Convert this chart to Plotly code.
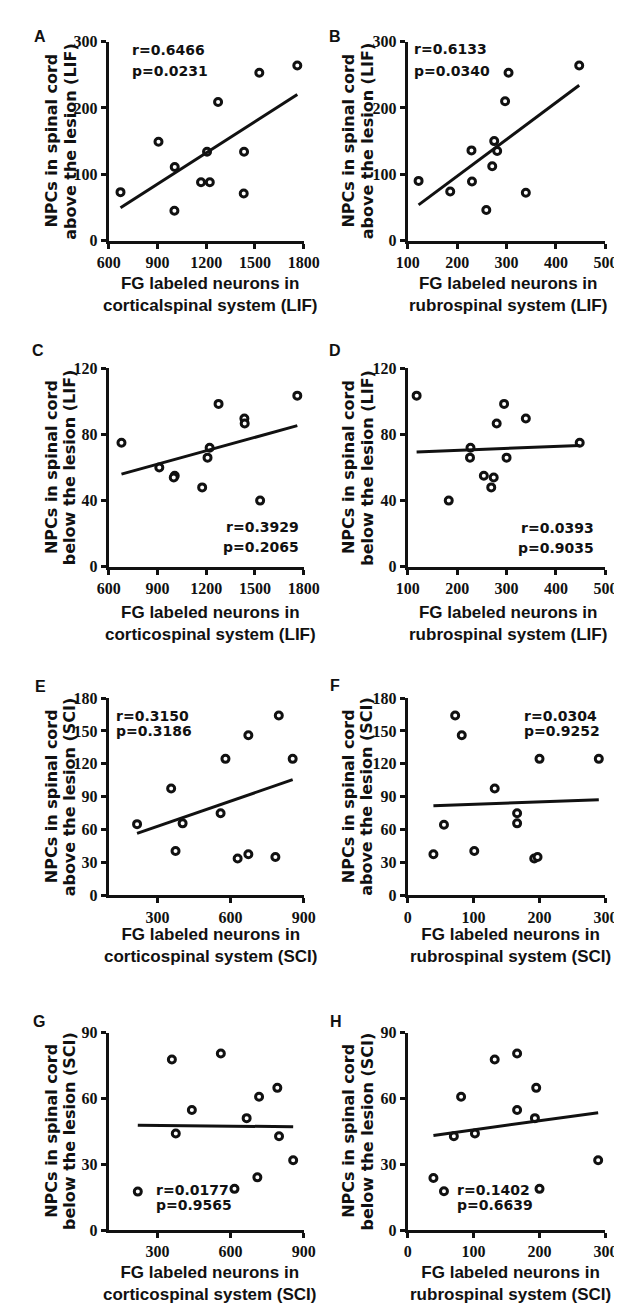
import numpy as np
import plotly.graph_objects as go

W, H = 622, 1307

# ---------------- data ----------------
a_x = [672, 906, 1006, 1004, 1168, 1222, 1205, 1273, 1433, 1431, 1527, 1761]
a_y = [73, 149, 111, 45, 88, 88, 134, 209, 134, 71, 253, 264]
b_x = [122, 186, 229, 230, 259, 271, 275, 281, 297, 304, 339, 447]
b_y = [90, 74, 136, 89, 46, 112, 150, 135, 210, 253, 72, 264]
c_x = [678, 911, 1006, 1000, 1175, 1208, 1221, 1276, 1435, 1437, 1532, 1761]
c_y = [75, 60, 55, 54, 48, 66, 72, 98.5, 89.7, 86.6, 40, 103.5]
d_x = [118, 183, 227, 226, 254, 274, 269, 280, 295, 300, 339, 448]
d_y = [103.5, 40, 72, 66, 55, 54, 48, 86.6, 98.5, 66, 89.7, 75]
e_x = [216, 356, 374, 403, 559, 579, 629, 673, 673, 784, 798, 855]
e_y = [65, 97.5, 40.5, 65.7, 75, 124.5, 33.6, 146, 37.5, 35, 164, 124.5]
f_x = [39, 55, 72, 82, 101, 132, 166, 166, 192, 197, 200, 290]
f_y = [37.5, 64.5, 164, 146, 40.5, 97.5, 75, 65.7, 33.6, 35, 124.5, 124.5]
g_x = [219, 359, 375, 441, 560, 616, 666, 710, 717, 792, 799, 857]
g_y = [17.5, 77.7, 44, 54.75, 80.5, 18.75, 51, 24, 60.75, 64.8, 42.75, 31.8]
h_x = [39, 55, 70, 81, 102, 132, 166, 166, 193, 195, 200, 289]
h_y = [23.7, 17.7, 42.75, 60.75, 44, 77.7, 80.5, 54.75, 51, 64.8, 18.75, 31.8]

panel_letters = ["A", "B", "C", "D", "E", "F", "G", "H"]
r_texts = ["r=0.6466", "r=0.6133", "r=0.3929", "r=0.0393",
           "r=0.3150", "r=0.0304", "r=0.0177", "r=0.1402"]
p_texts = ["p=0.0231", "p=0.0340", "p=0.2065", "p=0.9035",
           "p=0.3186", "p=0.9252", "p=0.9565", "p=0.6639"]

x_titles = [
    "FG labeled neurons in<br>corticalspinal system (LIF)",
    "FG labeled neurons in<br>rubrospinal system (LIF)",
    "FG labeled neurons in<br>corticospinal system (LIF)",
    "FG labeled neurons in<br>rubrospinal system (LIF)",
    "FG labeled neurons in<br>corticospinal system (SCI)",
    "FG labeled neurons in<br>rubrospinal system (SCI)",
    "FG labeled neurons in<br>corticospinal system (SCI)",
    "FG labeled neurons in<br>rubrospinal system (SCI)",
]
y_title_line1 = "NPCs in spinal cord"
y_title_line2 = ["above the lesion (LIF)", "above the lesion (LIF)",
                 "below the lesion (LIF)", "below the lesion (LIF)",
                 "above the lesion (SCI)", "above the lesion (SCI)",
                 "below the lesion (SCI)", "below the lesion (SCI)"]

cs_lif_ticks = [600, 900, 1200, 1500, 1800]
rs_lif_ticks = [100, 200, 300, 400, 500]
cs_sci_ticks = [300, 600, 900]
rs_sci_ticks = [0, 100, 200, 300]
ab_lif_ticks = [0, 100, 200, 300]
bl_lif_ticks = [0, 40, 80, 120]
ab_sci_ticks = [0, 30, 60, 90, 120, 150, 180]
bl_sci_ticks = [0, 30, 60, 90]

xs = [a_x, b_x, c_x, d_x, e_x, f_x, g_x, h_x]
ys = [a_y, b_y, c_y, d_y, e_y, f_y, g_y, h_y]
x_ranges = [[600, 1800], [100, 500], [600, 1800], [100, 500],
            [100, 900], [0, 300], [100, 900], [0, 300]]
x_ticks = [cs_lif_ticks, rs_lif_ticks, cs_lif_ticks, rs_lif_ticks,
           cs_sci_ticks, rs_sci_ticks, cs_sci_ticks, rs_sci_ticks]
y_ranges = [[0, 300], [0, 300], [0, 120], [0, 120],
            [0, 180], [0, 180], [0, 90], [0, 90]]
y_ticks = [ab_lif_ticks, ab_lif_ticks, bl_lif_ticks, bl_lif_ticks,
           ab_sci_ticks, ab_sci_ticks, bl_sci_ticks, bl_sci_ticks]

# ---------------- layout geometry (pixels) ----------------
col_x = [(93, 297), (406, 613)]
row_y = [(26, 227.5), (357, 558), (691, 891), (1030, 1230)]

# stats text placement: (anchor x px, r y px, p y px, xanchor)
stat_pos = [(115, 34.3, 55.3, "left"), (411, 33.7, 55.7, "left"),
            (294, 517.3, 538.3, "right"), (603, 519, 538.7, "right"),
            (98, 709.5, 724.5, "left"), (526, 709.5, 724.5, "left"),
            (140, 1189.5, 1204.5, "left"), (456, 1189.5, 1204.5, "left")]
letter_pos = [(21, 20.5), (329.5, 20.5), (18.5, 339), (329.5, 339),
              (21, 679), (329.5, 678), (20, 1018.5), (331, 1018.5)]
xtitle_pos = [(199, 282.5), (511, 282.5), (200, 615.5), (511, 615.5),
              (200, 942), (514, 942), (199, 1284), (514, 1284)]
ytitle_x = [(33, 52), (344, 363.5)]


def px(x):
    return x / W


def py(y):
    return 1 - y / H


fig = go.Figure()
annotations = []
black = "#111111"

for i in range(8):
    r, c = divmod(i, 2)
    xa = "x" if i == 0 else f"x{i+1}"
    ya = "y" if i == 0 else f"y{i+1}"
    xkey = "xaxis" if i == 0 else f"xaxis{i+1}"
    ykey = "yaxis" if i == 0 else f"yaxis{i+1}"
    x0, x1 = col_x[c]
    y0, y1 = row_y[r]

    xv = np.array(xs[i], dtype=float)
    yv = np.array(ys[i], dtype=float)
    slope, icpt = np.polyfit(xv, yv, 1)
    fx = np.array([xv.min(), xv.max()])
    fy = slope * fx + icpt

    fig.add_trace(go.Scatter(
        x=xs[i], y=ys[i], mode="markers", xaxis=xa, yaxis=ya,
        marker=dict(symbol="circle", size=7, color="white",
                    line=dict(color=black, width=3)),
        cliponaxis=False, showlegend=False, hoverinfo="skip"))
    fig.add_trace(go.Scatter(
        x=fx, y=fy, mode="lines", xaxis=xa, yaxis=ya,
        line=dict(color=black, width=3), cliponaxis=False,
        showlegend=False, hoverinfo="skip"))

    common = dict(showline=True, linecolor=black, linewidth=3,
                  ticks="outside", ticklen=5, tickwidth=3, tickcolor=black,
                  showgrid=False, zeroline=False, fixedrange=True,
                  tickfont=dict(family="Liberation Serif", size=16,
                                color=black, weight="bold"))
    fig.update_layout({
        xkey: dict(domain=[px(x0), px(x1)], range=x_ranges[i],
                   tickvals=x_ticks[i], anchor=ya, **common),
        ykey: dict(domain=[py(y1), py(y0)], range=y_ranges[i],
                   tickvals=y_ticks[i], anchor=xa, **common),
    })

    # panel letter
    lx, ly = letter_pos[i]
    annotations.append(dict(text=panel_letters[i], x=px(lx), y=py(ly),
                            xref="paper", yref="paper", showarrow=False,
                            xanchor="center", yanchor="middle",
                            font=dict(family="Liberation Sans", size=16,
                                      color=black, weight="bold")))
    # r / p text
    sx, ry, pyy, anc = stat_pos[i]
    for txt, ty in ((r_texts[i], ry), (p_texts[i], pyy)):
        annotations.append(dict(text=txt, x=px(sx), y=py(ty),
                                xref="paper", yref="paper", showarrow=False,
                                xanchor=anc, yanchor="middle",
                                font=dict(family="DejaVu Sans", size=14,
                                          color=black, weight="bold")))
    # x title
    tx, ty = xtitle_pos[i]
    annotations.append(dict(text=x_titles[i], x=px(tx), y=py(ty),
                            xref="paper", yref="paper", showarrow=False,
                            xanchor="center", yanchor="middle",
                            font=dict(family="Liberation Sans", size=17,
                                      color=black, weight="bold")))
    # y title (two rotated lines)
    yc = (y0 + y1) / 2
    for txt, lxp in ((y_title_line1, ytitle_x[c][0]),
                     (y_title_line2[i], ytitle_x[c][1])):
        annotations.append(dict(text=txt, x=px(lxp), y=py(yc),
                                xref="paper", yref="paper", showarrow=False,
                                textangle=-90, xanchor="center",
                                yanchor="middle",
                                font=dict(family="DejaVu Sans", size=16,
                                          color=black, weight="bold")))

fig.update_layout(width=W, height=H, autosize=False,
                  margin=dict(l=0, r=0, t=0, b=0),
                  paper_bgcolor="white", plot_bgcolor="white",
                  showlegend=False, annotations=annotations)

fig.write_html("out.html")
